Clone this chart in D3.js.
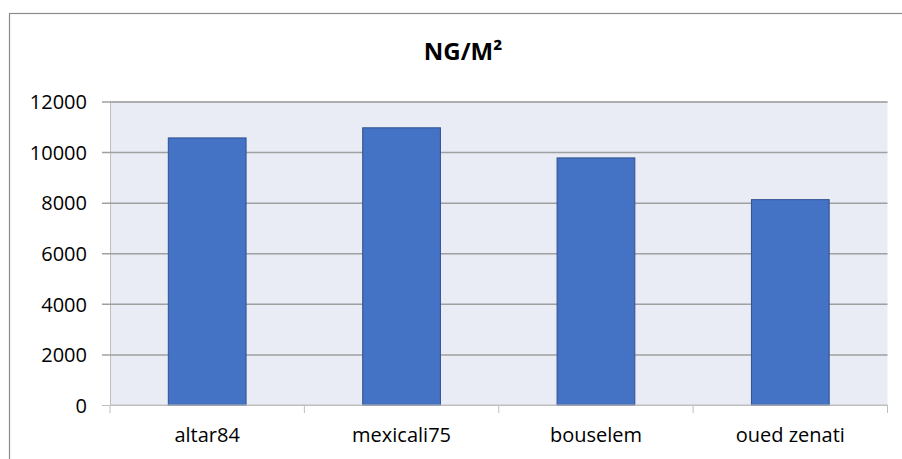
<!DOCTYPE html>
<html>
<head>
<meta charset="utf-8">
<script src="https://cdn.jsdelivr.net/npm/d3@7"></script>
<style>
  html, body { margin: 0; padding: 0; background: #ffffff; }
  svg { display: block; }
  text { font-family: "Open Sans", "Liberation Sans", sans-serif; fill: #000; }
</style>
</head>
<body>
<svg id="chart" width="902" height="459"></svg>
<script>
// Chart data
const title = "NG/M²";
const categories = ["altar84", "mexicali75", "bouselem", "oued zenati"];
const values = [10560, 10960, 9770, 8120];
const yTicks = [0, 2000, 4000, 6000, 8000, 10000, 12000];

const svg = d3.select("#chart");
const W = 902, H = 459;
const plot = { left: 110, right: 887.5, top: 101.5, bottom: 405 };

// Outer chart frame
svg.append("rect")
  .attr("x", 9.5).attr("y", 13.5)
  .attr("width", W).attr("height", H)
  .attr("fill", "#fff")
  .attr("stroke", "#8c8c8c").attr("stroke-width", 1.2);

// Title
svg.append("text")
  .attr("x", 463).attr("y", 60)
  .attr("text-anchor", "middle")
  .attr("font-size", 24).attr("font-weight", "bold")
  .text(title);

const x = d3.scaleBand().domain(categories)
  .range([plot.left, plot.right])
  .paddingInner(0.6).paddingOuter(0.3);
const xBound = d3.scaleBand().domain(categories).range([plot.left, plot.right]);
const y = d3.scaleLinear().domain([0, 12000]).range([plot.bottom, plot.top]);

// Plot background
svg.append("rect")
  .attr("x", plot.left).attr("y", plot.top)
  .attr("width", plot.right - plot.left).attr("height", plot.bottom - plot.top)
  .attr("fill", "#e9ebf5");

// Horizontal gridlines with outward ticks
const yAxis = d3.axisLeft(y).tickValues(yTicks).tickSize(-(plot.right - plot.left)).tickFormat(d => d);
const gy = svg.append("g").attr("transform", `translate(${plot.left},0)`).call(yAxis);
gy.select(".domain").attr("stroke", "#bfbfbf").attr("stroke-width", 1);
gy.selectAll(".tick line").attr("x1", -8).attr("stroke", "#a0a0a0").attr("stroke-width", 1.5);
gy.selectAll(".tick").filter(d => d === 0).select("line").attr("stroke", "#bfbfbf").attr("stroke-width", 1);
gy.selectAll(".tick text")
  .attr("x", -23).attr("dy", "0.36em")
  .attr("font-size", 20).attr("font-family", "Open Sans, sans-serif").attr("fill", "#000");

// Bars
svg.append("g").selectAll("rect")
  .data(categories.map((c, i) => ({ c, v: values[i] })))
  .join("rect")
  .attr("x", d => x(d.c))
  .attr("y", d => y(d.v))
  .attr("width", x.bandwidth())
  .attr("height", d => y(0) - y(d.v))
  .attr("fill", "#4472c4")
  .attr("stroke", "#2f528f").attr("stroke-width", 1);

// Category axis with boundary ticks
const xAxisG = svg.append("g").attr("transform", `translate(0,${plot.bottom})`);
xAxisG.append("line")
  .attr("x1", plot.left).attr("x2", plot.right)
  .attr("stroke", "#bfbfbf").attr("stroke-width", 1);
const bounds = categories.map(c => xBound(c)).concat([plot.right]);
xAxisG.selectAll("line.tick").data(bounds).join("line")
  .attr("class", "tick")
  .attr("x1", d => d).attr("x2", d => d)
  .attr("y1", 0).attr("y2", 8)
  .attr("stroke", "#bfbfbf").attr("stroke-width", 1);
xAxisG.selectAll("text").data(categories).join("text")
  .attr("x", d => xBound(d) + xBound.bandwidth() / 2)
  .attr("y", 36.5)
  .attr("text-anchor", "middle")
  .attr("font-size", 20)
  .text(d => d);
</script>
</body>
</html>
